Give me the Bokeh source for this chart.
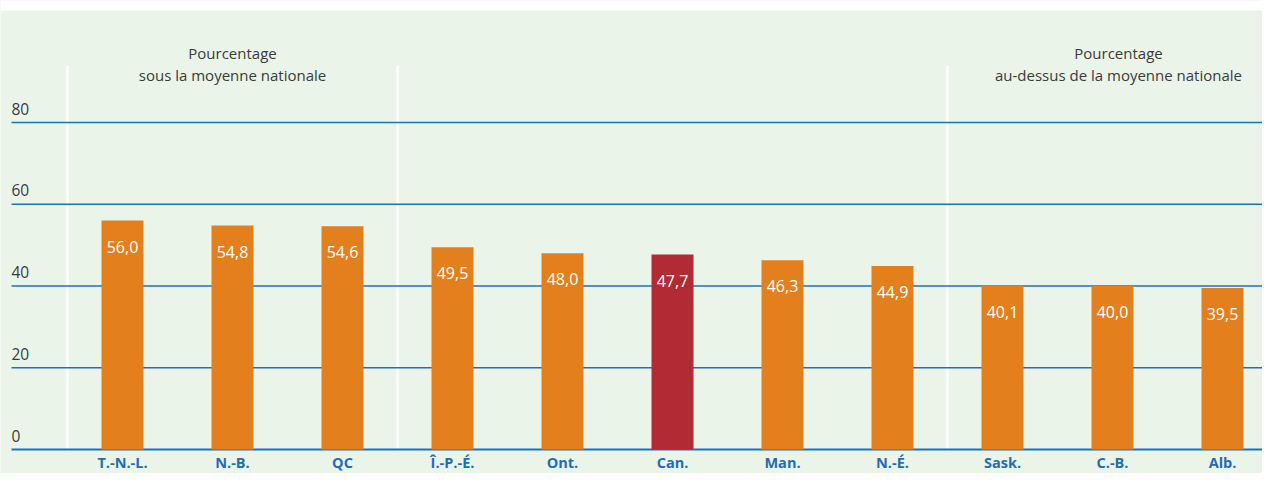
from bokeh.plotting import figure
from bokeh.models import Range1d, ColumnDataSource
from bokeh.embed import file_html
from bokeh.resources import INLINE
from bokeh.core.properties import value

# ---- data ----
provinces = ["T.-N.-L.", "N.-B.", "QC", "Î.-P.-É.", "Ont.", "Can.", "Man.", "N.-É.", "Sask.", "C.-B.", "Alb."]
percentages = [56.0, 54.8, 54.6, 49.5, 48.0, 47.7, 46.3, 44.9, 40.1, 40.0, 39.5]
y_ticks = [0, 20, 40, 60, 80]
group_titles_line1 = ["Pourcentage", "Pourcentage"]
group_titles_line2 = ["sous la moyenne nationale", "au-dessus de la moyenne nationale"]
national = "Can."

# ---- style ----
BG = "#eaf4e9"
ORANGE = "#e47f1e"
RED = "#b22a34"
GRID_BLUE = "#1a72bb"
CAT_BLUE = "#1f6db4"
TEXT = "#3a3a3a"
FONT = "Open Sans"

W, H = 1262, 473
PX_X = 110.0                 # pixels per category
X0 = 122.0                   # pixel column of first category centre
BASE = 449.0                 # pixel row of y = 0
TOP80 = 122.0                # pixel row of y = 80
PX_Y = (BASE - TOP80) / 80   # pixels per percent

x_range = Range1d(-X0 / PX_X, (W - X0) / PX_X)
y_range = Range1d(-(H - BASE) / PX_Y, BASE / PX_Y)

def ydata(px_row):
    return (BASE - px_row) / PX_Y

p = figure(width=W, height=H, x_range=x_range, y_range=y_range,
           output_backend="svg", toolbar_location=None,
           min_border=0, min_border_left=0, min_border_right=0,
           min_border_top=0, min_border_bottom=0)
p.axis.visible = False
p.grid.visible = False
p.outline_line_color = None
p.background_fill_color = BG
p.border_fill_color = BG

# white band at the very top of the panel
p.quad(left=x_range.start, right=x_range.end, bottom=ydata(10), top=y_range.end,
       fill_color="white", line_color=None)

idx = list(range(len(provinces)))
colors = [RED if c == national else ORANGE for c in provinces]
labels = [f"{v:.1f}".replace(".", ",") for v in percentages]
src = ColumnDataSource(dict(x=idx, top=percentages, color=colors, label=labels, cat=provinces))

# group separators (between categories)
n_low = 3
n_high = 3
sep_x = [-0.5, n_low - 0.5, len(provinces) - n_high - 0.5]
sep_top = ydata(65)
p.segment(x0=sep_x, y0=[0] * 3, x1=sep_x, y1=[sep_top] * 3, line_color="white", line_width=2.5)

# horizontal grid lines
gx0 = x_range.start + 11 / PX_X
gx1 = x_range.end
p.segment(x0=[gx0] * 4, y0=y_ticks[1:], x1=[gx1] * 4, y1=y_ticks[1:], line_color=GRID_BLUE, line_width=1.3)
p.segment(x0=[gx0], y0=[0], x1=[gx1], y1=[0], line_color=GRID_BLUE, line_width=2)

# bars
p.vbar(x="x", top="top", bottom=0, width=42 / PX_X, fill_color="color", line_color=None, source=src)

# value labels inside bars
p.text(x="x", y="top", text="label", source=src, text_color="white",
       text_font=value(FONT), text_font_size="16px", text_align="center",
       text_baseline="middle", y_offset=26)

# category labels
p.text(x="x", y=0, text="cat", source=src, text_color=CAT_BLUE,
       text_font=value(FONT), text_font_style="bold", text_font_size="14.5px",
       text_align="center", text_baseline="middle", y_offset=13)

# y tick labels above grid lines
p.text(x=[gx0] * len(y_ticks), y=y_ticks, text=[str(t) for t in y_ticks],
       text_color=TEXT, text_font=value(FONT), text_font_size="15.5px",
       text_align="left", text_baseline="middle", y_offset=-14)

# group titles
title_x = [(sep_x[0] + sep_x[1]) / 2, (sep_x[2] + (1278 - X0) / PX_X) / 2 + 0.05]
p.text(x=title_x, y=[ydata(52)] * 2, text=group_titles_line1, text_color=TEXT,
       text_font=value(FONT), text_font_size="15px", text_align="center", text_baseline="middle")
p.text(x=title_x, y=[ydata(74)] * 2, text=group_titles_line2, text_color=TEXT,
       text_font=value(FONT), text_font_size="15px", text_align="center", text_baseline="middle")

open("out.html", "w").write(file_html(p, INLINE))
